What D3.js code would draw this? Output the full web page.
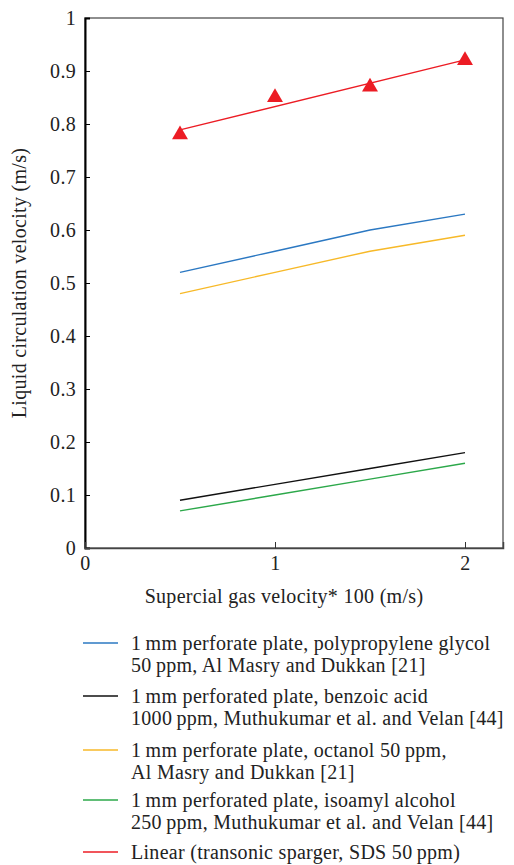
<!DOCTYPE html>
<html lang="en">
<head>
    <meta charset="UTF-8">
    <title>Liquid circulation velocity</title>
    <script src="https://d3js.org/d3.v7.min.js"></script>
    <style>
        body {
            margin: 0;
            background: white;
        }
        svg text {
            font-family: "Liberation Serif", "DejaVu Serif", serif;
            fill: #222;
            letter-spacing: 0.3px;
        }
    </style>
</head>
<body>
<script>
    // Data
    const gasVelocity = [0.5, 1, 1.5, 2];
    const polypropyleneGlycol = [0.52, 0.56, 0.60, 0.63];
    const benzoicAcid = [0.09, 0.12, 0.15, 0.18];
    const octanol = [0.48, 0.52, 0.56, 0.59];
    const isoamylAlcohol = [0.07, 0.10, 0.13, 0.16];
    const sdsPoints = [0.78, 0.85, 0.87, 0.92];
    const xTicks = [0, 1, 2];
    const yTicks = [0, 0.1, 0.2, 0.3, 0.4, 0.5, 0.6, 0.7, 0.8, 0.9, 1];

    const legendItems = [
        { color: "#2b78c2", lines: ["1\u2009mm perforate plate, polypropylene glycol", "50\u2009ppm,  Al Masry and Dukkan [21]"] },
        { color: "#111111", lines: ["1\u2009mm perforated plate, benzoic acid", "1000\u2009ppm, Muthukumar et al. and Velan [44]"] },
        { color: "#f7b928", lines: ["1\u2009mm perforate plate, octanol 50\u2009ppm,", "Al Masry and Dukkan [21]"] },
        { color: "#2ca84a", lines: ["1\u2009mm perforated plate, isoamyl alcohol", "250\u2009ppm, Muthukumar et al. and Velan [44]"] },
        { color: "#ec1c24", lines: ["Linear (transonic sparger, SDS 50\u2009ppm)"] }
    ];

    const width = 514, height = 865;
    const plotLeft = 85, plotRight = 503, plotTop = 18, plotBottom = 548;
    const fontSize = "20px";

    const svg = d3.select("body").append("svg")
        .attr("width", width)
        .attr("height", height);

    const x = d3.scaleLinear().domain([0, 2.2]).range([plotLeft, plotRight]);
    const y = d3.scaleLinear().domain([0, 1]).range([plotBottom, plotTop]);

    // frame
    svg.append("rect")
        .attr("x", plotLeft).attr("y", plotTop)
        .attr("width", plotRight - plotLeft).attr("height", plotBottom - plotTop)
        .attr("fill", "none").attr("stroke", "#444").attr("stroke-width", 1.2);

    // y axis, ticks pointing inward
    const yAxis = svg.append("g")
        .attr("transform", `translate(${plotLeft},0)`)
        .call(d3.axisRight(y).tickValues(yTicks).tickSize(5).tickFormat(d3.format("")));
    yAxis.select(".domain").attr("stroke", "#000").attr("stroke-width", 2);
    yAxis.selectAll("text")
        .attr("x", -9).attr("text-anchor", "end")
        .style("font-size", fontSize);
    yAxis.selectAll("line").attr("stroke", "#000");

    // x axis, ticks pointing inward
    const xAxis = svg.append("g")
        .attr("transform", `translate(0,${plotBottom})`)
        .call(d3.axisTop(x).tickValues(xTicks).tickSize(6).tickFormat(d3.format("d")));
    xAxis.select(".domain").attr("stroke", "#444").attr("stroke-width", 1.5);
    xAxis.selectAll("line").attr("stroke", "#333");
    xAxis.selectAll("text")
        .attr("y", 22).attr("dy", 0)
        .style("font-size", fontSize);

    // axis titles
    svg.append("text")
        .attr("x", 284)
        .attr("y", 603)
        .attr("text-anchor", "middle")
        .style("font-size", fontSize)
        .text("Supercial gas velocity* 100 (m/s)");

    svg.append("text")
        .attr("transform", `translate(26,283) rotate(-90)`)
        .attr("text-anchor", "middle")
        .style("font-size", fontSize)
        .text("Liquid circulation velocity (m/s)");

    const line = d3.line()
        .x((d, i) => x(gasVelocity[i]))
        .y(d => y(d));

    const series = [
        { values: polypropyleneGlycol, color: legendItems[0].color },
        { values: benzoicAcid, color: legendItems[1].color },
        { values: octanol, color: legendItems[2].color },
        { values: isoamylAlcohol, color: legendItems[3].color }
    ];

    series.forEach(s => {
        svg.append("path")
            .datum(s.values)
            .attr("d", line)
            .attr("fill", "none")
            .attr("stroke", s.color)
            .attr("stroke-width", 1.4);
    });

    // linear trend for the SDS points (least squares)
    const mx = d3.mean(gasVelocity), my = d3.mean(sdsPoints);
    const slope = d3.sum(gasVelocity, (v, i) => (v - mx) * (sdsPoints[i] - my)) /
        d3.sum(gasVelocity, v => (v - mx) * (v - mx));
    const fit = v => my + slope * (v - mx);
    const xs = d3.extent(gasVelocity);

    svg.append("line")
        .attr("x1", x(xs[0])).attr("y1", y(fit(xs[0])))
        .attr("x2", x(xs[1])).attr("y2", y(fit(xs[1])))
        .attr("stroke", legendItems[4].color)
        .attr("stroke-width", 1.4);

    svg.selectAll(".tri")
        .data(sdsPoints)
        .enter().append("path")
        .attr("class", "tri")
        .attr("d", d3.symbol().type(d3.symbolTriangle).size(110))
        .attr("transform", (d, i) => `translate(${x(gasVelocity[i])},${y(d)})`)
        .attr("fill", "#ec1c24");

    // legend
    const legendTop = [643, 696, 750, 800, 852];
    const legend = svg.append("g");
    legendItems.forEach((item, i) => {
        const g = legend.append("g").attr("transform", `translate(0,${legendTop[i]})`);
        g.append("line")
            .attr("x1", 83).attr("x2", 118)
            .attr("y1", 0).attr("y2", 0)
            .attr("stroke", item.color).attr("stroke-width", 1.4);
        item.lines.forEach((t, j) => {
            g.append("text")
                .attr("x", 131)
                .attr("y", j * 21.5)
                .attr("dy", "0.35em")
                .style("font-size", fontSize)
                .text(t);
        });
    });
</script>
</body>
</html>
